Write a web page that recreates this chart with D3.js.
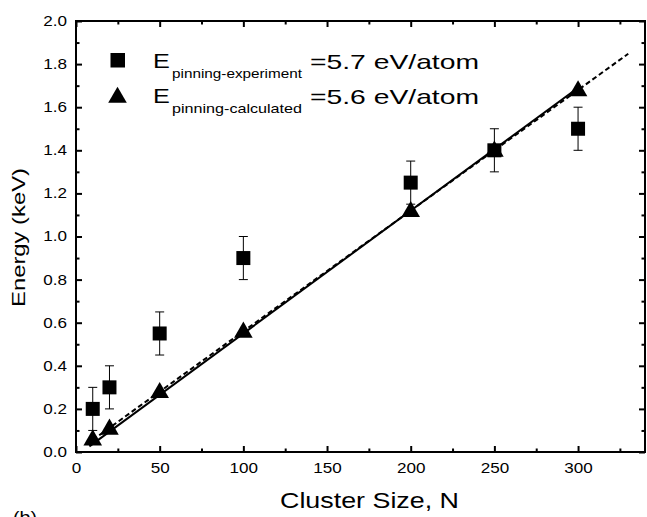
<!DOCTYPE html>
<html><head><meta charset="utf-8">
<script src="https://cdn.jsdelivr.net/npm/d3@7"></script>
<style>body{margin:0;background:#fff;} svg{display:block;font-family:"Liberation Sans",Arial,sans-serif;}</style>
</head><body>
<svg id="c" width="647" height="517"></svg>
<script>
const sizes = [10, 20, 50, 100, 200, 250, 300];
const experiment = [0.20, 0.30, 0.55, 0.90, 1.25, 1.40, 1.50];
const expError = [0.10, 0.10, 0.10, 0.10, 0.10, 0.10, 0.10];
const calculated = [0.06, 0.11, 0.28, 0.56, 1.12, 1.40, 1.68];
const solidFit = [[8, 0.026], [300, 1.69]];
const dashedFit = [[10, 0.056], [330, 1.848]];
const xTicks = [0, 50, 100, 150, 200, 250, 300];
const yTicks = [0.0, 0.2, 0.4, 0.6, 0.8, 1.0, 1.2, 1.4, 1.6, 1.8, 2.0];

const svg = d3.select("#c");
const L = 76, R = 645, T = 21, B = 452;
const x = d3.scaleLinear().domain([0, 340]).range([L, R]);
const y = d3.scaleLinear().domain([0, 2]).range([B, T]);

function stretch(sel, k) {
  sel.each(function () {
    const w = this.getComputedTextLength();
    d3.select(this).attr("textLength", w * k).attr("lengthAdjust", "spacingAndGlyphs");
  });
}

const g = svg.append("g");
const xMinor = d3.range(25, 340, 50);
const yMinor = d3.range(0.1, 2, 0.2);
function ax(axisFn, scale, ticks, size, fmt, tr) {
  const a = g.append("g").attr("transform", tr)
    .call(axisFn(scale).tickValues(ticks).tickSize(size).tickFormat(fmt).tickSizeOuter(0));
  a.select(".domain").remove();
  a.selectAll(".tick line").attr("stroke", "#000").attr("stroke-width", 2);
  return a;
}
const xb = ax(d3.axisBottom, x, xTicks, -6, d3.format("d"), `translate(0,${B})`);
xb.selectAll("text").attr("y", 11).attr("font-size", 14).attr("fill", "#000")
  .attr("font-family", "Liberation Sans, Arial, sans-serif");
stretch(xb.selectAll("text"), 1.22);
ax(d3.axisBottom, x, xMinor, -3.5, "", `translate(0,${B})`);
ax(d3.axisTop, x, xTicks, -6, "", `translate(0,${T})`);
ax(d3.axisTop, x, xMinor, -3.5, "", `translate(0,${T})`);
const yl = ax(d3.axisLeft, y, yTicks, -6, d3.format(".1f"), `translate(${L},0)`);
yl.selectAll("text").attr("x", -9).attr("font-size", 14).attr("fill", "#000")
  .attr("font-family", "Liberation Sans, Arial, sans-serif");
stretch(yl.selectAll("text"), 1.22);
ax(d3.axisLeft, y, yMinor, -3.5, "", `translate(${L},0)`);
ax(d3.axisRight, y, yTicks, -6, "", `translate(${R},0)`);
ax(d3.axisRight, y, yMinor, -3.5, "", `translate(${R},0)`);

g.append("rect").attr("x", L).attr("y", T).attr("width", R - L).attr("height", B - T)
  .attr("fill", "none").attr("stroke", "#000").attr("stroke-width", 2);

const line = d3.line().x(d => x(d[0])).y(d => y(d[1]));
g.append("path").attr("d", line(solidFit)).attr("stroke", "#000").attr("stroke-width", 2).attr("fill", "none");
g.append("path").attr("d", line(dashedFit)).attr("stroke", "#000").attr("stroke-width", 2)
  .attr("stroke-dasharray", "5,3").attr("fill", "none");

sizes.forEach((n, i) => {
  const cx = x(n), y1 = y(experiment[i] + expError[i]), y2 = y(experiment[i] - expError[i]);
  g.append("line").attr("x1", cx).attr("x2", cx).attr("y1", y1).attr("y2", y2).attr("stroke", "#000").attr("stroke-width", 1);
  [y1, y2].forEach(yy => g.append("line").attr("x1", cx - 4.5).attr("x2", cx + 4.5).attr("y1", yy).attr("y2", yy).attr("stroke", "#000").attr("stroke-width", 1));
});
const sq = 14;
sizes.forEach((n, i) => {
  g.append("rect").attr("x", x(n) - sq / 2).attr("y", y(experiment[i]) - sq / 2)
    .attr("width", sq).attr("height", sq).attr("fill", "#000");
});
const tri = d3.symbol().type(d3.symbolTriangle).size(150);
sizes.forEach((n, i) => {
  g.append("path").attr("d", tri()).attr("transform", `translate(${x(n)},${y(calculated[i]) + 1})`).attr("fill", "#000");
});

// legend
g.append("rect").attr("x", 110.5).attr("y", 53).attr("width", 14.5).attr("height", 14.5).attr("fill", "#000");
g.append("path").attr("d", tri()).attr("transform", `translate(117.5,97.5)`).attr("fill", "#000");
function legText(yb, sub, val) {
  const e = g.append("text").attr("x", 153).attr("y", yb).attr("font-size", 21).attr("fill", "#000").text("E");
  stretch(e, 1.2);
  const s = g.append("text").attr("x", 172).attr("y", yb + 10).attr("font-size", 13).attr("fill", "#000").text(sub);
  s.attr("textLength", 130).attr("lengthAdjust", "spacingAndGlyphs");
  g.append("text").attr("x", 310).attr("y", yb + 1).attr("font-size", 21).attr("fill", "#000").text(val)
    .attr("textLength", 169).attr("lengthAdjust", "spacingAndGlyphs");
}
legText(67.5, "pinning-experiment", "=5.7 eV/atom");
legText(102.5, "pinning-calculated", "=5.6 eV/atom");

// axis labels
svg.append("text").attr("transform", `translate(24.5,237.5) rotate(-90)`).attr("text-anchor", "middle")
  .attr("font-size", 18).attr("fill", "#000").text("Energy (keV)")
  .attr("textLength", 139).attr("lengthAdjust", "spacingAndGlyphs");
svg.append("text").attr("x", 369.5).attr("y", 508).attr("text-anchor", "middle")
  .attr("font-size", 21.5).attr("fill", "#000").text("Cluster Size, N")
  .attr("textLength", 179).attr("lengthAdjust", "spacingAndGlyphs");
svg.append("text").attr("x", 13).attr("y", 523).attr("font-size", 17).attr("fill", "#000").text("(b)")
  .attr("textLength", 24).attr("lengthAdjust", "spacingAndGlyphs");
</script>
</body></html>
